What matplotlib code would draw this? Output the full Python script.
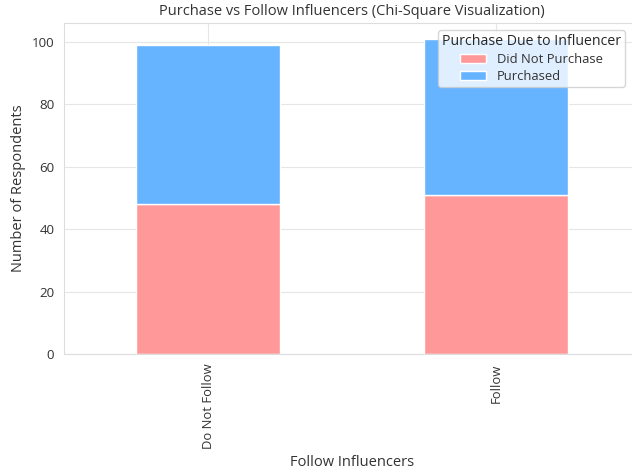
import numpy as np
import matplotlib
matplotlib.use("Agg")
import matplotlib.pyplot as plt
import seaborn as sns

sns.set_style("whitegrid")
plt.rcParams['font.family'] = ['Open Sans', 'DejaVu Sans']

categories = ["Do Not Follow", "Follow"]
did_not_purchase = [48, 51]
purchased = [51, 50]
series_names = ["Did Not Purchase", "Purchased"]
colors = ["#ff9999", "#66b3ff"]

fig = plt.figure(figsize=(6.32, 4.73), dpi=100)
# axes runs past the right edge, like the cropped original
ax = fig.add_axes([64 / 632, 119 / 473, 576 / 632, 331 / 473])

x = np.arange(len(categories))
ax.bar(x, did_not_purchase, width=0.5, color=colors[0], label=series_names[0])
ax.bar(x, purchased, width=0.5, bottom=did_not_purchase, color=colors[1], label=series_names[1])

ax.set_xlim(-0.5, 1.5)
ax.set_ylim(0, max(np.add(did_not_purchase, purchased)) * 1.05)
ax.set_xticks(x)
ax.set_xticklabels(categories, rotation=90, fontsize=9.4)
ax.tick_params(axis='y', labelsize=9.6, colors='#333333')
ax.tick_params(axis='x', colors='#333333')
for s in ax.spines.values():
    s.set_color('#dddddd')
ax.grid(color='#e6e6e6')

ax.set_xlabel("Follow Influencers", fontsize=10.5, color='#333333')
ax.set_ylabel("Number of Respondents", fontsize=10.5, color='#333333')
ax.set_title("Purchase vs Follow Influencers (Chi-Square Visualization)",
             fontsize=10.5, color='#333333', pad=6)

leg = ax.legend(title="Purchase Due to Influencer", fontsize=9.4, title_fontsize=10.2,
                loc='upper left', bbox_to_anchor=((438 - 64) / 576, 1 - 7 / 331),
                borderaxespad=0, frameon=True, labelspacing=0.3, borderpad=0.3,
                framealpha=0.8)
leg.get_frame().set_edgecolor('#cccccc')
for t in leg.get_texts():
    t.set_color('#333333')

fig.savefig("out.png", dpi=100)
